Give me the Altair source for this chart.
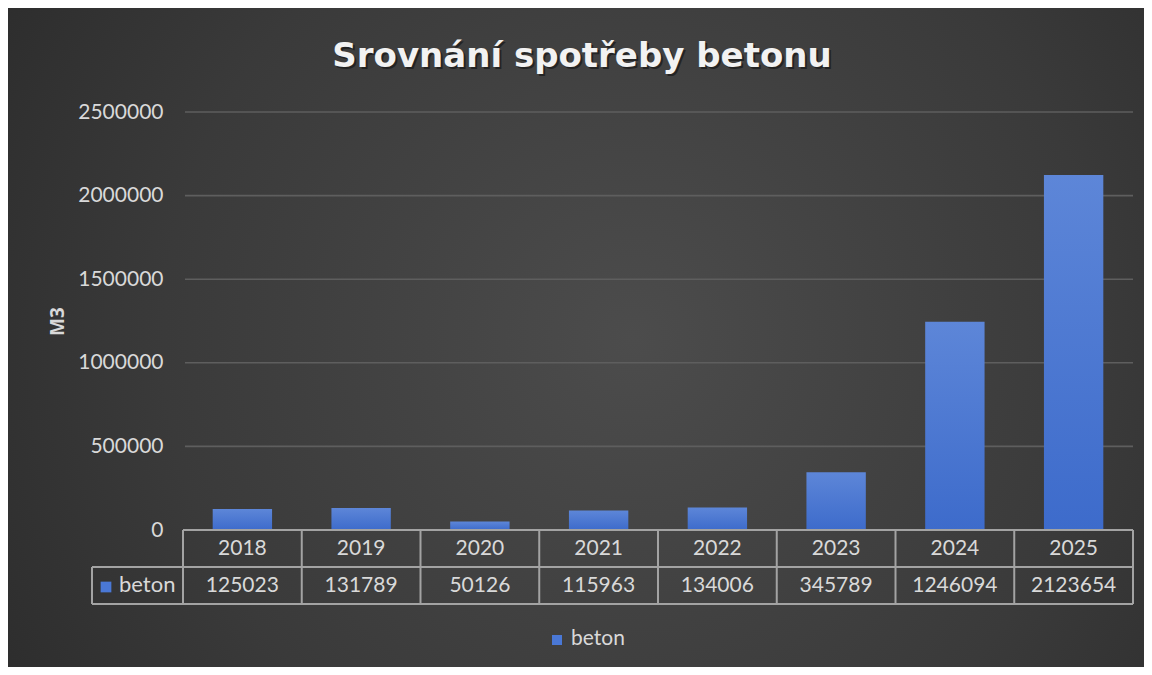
import altair as alt
import pandas as pd

years = ["2018", "2019", "2020", "2021", "2022", "2023", "2024", "2025"]
beton = [125023, 131789, 50126, 115963, 134006, 345789, 1246094, 2123654]
series_name = "beton"
title_text = "Srovnání spotřeby betonu"
y_title = "M3"
y_ticks = [0, 500000, 1000000, 1500000, 2000000, 2500000]

df = pd.DataFrame({"year": years, "value": beton, "series": series_name})
one = pd.DataFrame({"series": [series_name], "title": [title_text]})
ticks_df = pd.DataFrame({"tick": y_ticks})

W, H = 950, 418
FONT = "Lato"
TXT = "#d9d9d9"
LINE = "#a3a3a3"
BLUE = "#4a78d6"

xs = alt.Scale(domain=years, paddingInner=0, paddingOuter=0)
ys = alt.Scale(domain=[0, 2500000], nice=False)
yaxis = alt.Axis(values=y_ticks, format="d", grid=False, domain=False, ticks=False,
                 zindex=1,
                 labelColor=TXT, labelFontSize=21, labelFont=FONT,
                 labelPadding=20,
                 title=y_title, titleColor=TXT, titleFont="Open Sans", titleFontSize=19,
                 titleFontWeight="bold", titleAngle=270, titleX=-126, titleY=209,
                 titleAlign="center", titleBaseline="middle")

bg = alt.Chart(one).mark_rect(
    fill=alt.RadialGradient(
        gradient="radial",
        stops=[alt.GradientStop(color="#4c4c4c", offset=0),
               alt.GradientStop(color="#3a3a3a", offset=0.55),
               alt.GradientStop(color="#262626", offset=1)],
        x1=0.55, y1=0.5, r1=0, x2=0.55, y2=0.5, r2=0.75)
).encode(x=alt.value(-176), x2=alt.value(962), y=alt.value(-104), y2=alt.value(556))

grid = alt.Chart(ticks_df).mark_rule(color="#5e5e5e", strokeWidth=1.6).encode(
    y=alt.Y("tick:Q", scale=ys, axis=yaxis),
    x=alt.value(2), x2=alt.value(W))

bars = alt.Chart(df).mark_bar(
    width=alt.RelativeBandSize(0.5),
    fill=alt.LinearGradient(
        gradient="linear",
        stops=[alt.GradientStop(color="#5d86d8", offset=0),
               alt.GradientStop(color="#3d6bcb", offset=1)],
        x1=0, x2=0, y1=0, y2=1),
).encode(
    x=alt.X("year:O", scale=xs, axis=None),
    y=alt.Y("value:Q", scale=ys, axis=yaxis),
)

# table
vlines = alt.Chart(df).mark_rule(color=LINE, strokeWidth=2).encode(
    x=alt.X("year:O", scale=xs, axis=None, bandPosition=0),
    y=alt.value(H), y2=alt.value(H + 74))
vend = alt.Chart(one).mark_rule(color=LINE, strokeWidth=2).encode(
    x=alt.value(W), y=alt.value(H), y2=alt.value(H + 74))
vleft = alt.Chart(one).mark_rule(color=LINE, strokeWidth=2).encode(
    x=alt.value(-91), y=alt.value(H + 37), y2=alt.value(H + 74))
htop = alt.Chart(one).mark_rule(color=LINE, strokeWidth=2).encode(
    x=alt.value(0), x2=alt.value(W), y=alt.value(H))
hmid = alt.Chart(one).mark_rule(color=LINE, strokeWidth=2).encode(
    x=alt.value(-91), x2=alt.value(W), y=alt.value(H + 37))
hbot = alt.Chart(one).mark_rule(color=LINE, strokeWidth=2).encode(
    x=alt.value(-91), x2=alt.value(W), y=alt.value(H + 74))

head_txt = alt.Chart(df).mark_text(font=FONT, fontSize=21, color=TXT, baseline="middle").encode(
    x=alt.X("year:O", scale=xs, axis=None), y=alt.value(H + 19), text="year:N")
val_txt = alt.Chart(df).mark_text(font=FONT, fontSize=21, color=TXT, baseline="middle").encode(
    x=alt.X("year:O", scale=xs, axis=None), y=alt.value(H + 56), text="value:Q")

tab_sq = alt.Chart(one).mark_square(size=115, color=BLUE, opacity=1).encode(
    x=alt.value(-77), y=alt.value(H + 57))
tab_lbl = alt.Chart(one).mark_text(font=FONT, fontSize=22, color=TXT, align="left",
                                   baseline="middle").encode(
    x=alt.value(-64), y=alt.value(H + 55), text="series:N")

leg_sq = alt.Chart(one).mark_square(size=100, color=BLUE, opacity=1).encode(
    x=alt.value(374), y=alt.value(528))
leg_lbl = alt.Chart(one).mark_text(font=FONT, fontSize=21, color=TXT, align="left",
                                   baseline="middle").encode(
    x=alt.value(388), y=alt.value(527), text="series:N")

TFONT = "DejaVu Sans"
title_shadow = alt.Chart(one).mark_text(font=TFONT, fontSize=34, fontWeight="bold",
                                        color="#111111", opacity=0.6, baseline="middle").encode(
    x=alt.value(401), y=alt.value(-53), text="title:N")
title = alt.Chart(one).mark_text(font=TFONT, fontSize=34, fontWeight="bold",
                                 color="#f2f2f2", baseline="middle").encode(
    x=alt.value(399), y=alt.value(-55), text="title:N")

chart = alt.layer(
    bg, grid, bars, vlines, vend, vleft, htop, hmid, hbot, head_txt, val_txt,
    tab_sq, tab_lbl, leg_sq, leg_lbl, title_shadow, title
).properties(
    width=W, height=H,
    autosize=alt.AutoSizeParams(type="none"),
    padding={"left": 175, "top": 104, "right": 11, "bottom": 137},
).configure_view(stroke=None).configure(background="#2a2a2a")

chart.save("out.html", embed_options={"renderer": "svg", "actions": False})
